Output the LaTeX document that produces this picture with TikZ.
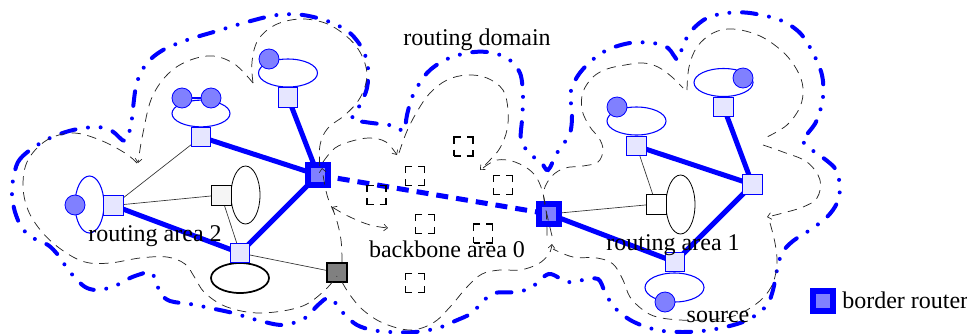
\documentclass[tikz,border=0pt]{standalone}
\usepackage{fontspec}
\setmainfont{Liberation Serif}
\usetikzlibrary{shapes.geometric,backgrounds,arrows.meta}
\definecolor{hostfill}{RGB}{128,128,255}
\definecolor{lav}{RGB}{230,230,255}
\begin{document}
\begin{tikzpicture}[x=0.75pt,y=-0.75pt,
  lavsq/.style={rectangle,draw=blue,fill=lav,line width=0.75pt,minimum size=14.5pt,inner sep=0pt},
  brsq/.style={rectangle,draw=blue,fill=hostfill,line width=4.5pt,minimum size=14.5pt,inner sep=0pt},
  hostc/.style={circle,draw=blue,fill=hostfill,line width=0.6pt,minimum size=15pt,inner sep=0pt},
  bell/.style={ellipse,draw=blue,line width=0.8pt,inner sep=0pt},
  kell/.style={ellipse,draw=black,line width=0.6pt,inner sep=0pt},
  wsq/.style={rectangle,draw=black,fill=white,line width=0.6pt,minimum size=15pt,inner sep=0pt},
  dsq/.style={rectangle,draw=black,line width=0.8pt,minimum size=14.25pt,inner sep=0pt,dash pattern=on 9.75pt off 4.5pt,dash phase=4.875pt},
  heavylink/.style={blue,line width=3.75pt},
  lightlink/.style={black!80,line width=0.5pt},
  areazone/.style={black!85,line width=0.55pt,dash pattern=on 7pt off 5pt},
  barbend/.style={-{Straight Barb[length=2.8pt,width=5pt,line width=0.5pt]}},
  routedomain/.style={blue,line width=3pt,line cap=round,dash pattern=on 11pt off 9.5pt on 0pt off 9.5pt on 0pt off 9.5pt},
  lbl/.style={font=\fontsize{18}{20}\selectfont,inner sep=0pt,anchor=base}]
\useasboundingbox (0,0) rectangle (967,333);

% ---------- routing domain (blue dash-dot) ----------
\draw[routedomain] plot[smooth cycle,tension=0.55] coordinates {
 (13,180) (18,162) (30,150) (50,138) (73,130) (97,127) (112,131) (125,141) (131,125)
 (133,108) (137,82) (147,63) (163,50) (187,40) (217,31) (247,22) (277,15) (303,15)
 (330,22) (350,33) (363,50) (368,68) (367,88) (360,105) (352,119) (365,122) (380,124)
 (395,126) (404,131) (407,115) (413,95) (427,73) (445,60) (467,53) (487,52) (507,58)
 (520,73) (523,97) (522,120) (521,140) (530,154) (541,162) (548,170) (557,153) (570,133)
 (572,110) (570,95) (577,77) (590,62) (607,50) (630,43) (653,43) (668,48) (678,60)
 (683,45) (692,30) (707,18) (727,13) (750,13) (780,20) (800,33) (813,53) (822,75)
 (823,97) (817,120) (808,133) (802,140) (812,150) (826,160) (836,170) (840,187)
 (837,203) (827,217) (810,230) (793,241) (782,253) (777,270) (773,290) (767,305)
 (753,317) (737,324) (710,330) (683,332) (657,330) (632,321) (614,307) (605,292)
 (598,279) (583,280) (567,282) (549,274) (532,287) (517,292) (495,293) (482,302)
 (472,313) (455,321) (438,328) (415,332) (390,332) (372,330) (357,325) (345,315)
 (330,298) (318,305) (305,318) (283,325) (257,320) (233,313) (210,308) (190,304)
 (170,301) (160,293) (156,280) (150,272) (141,274) (130,278) (117,285) (100,290)
 (87,288) (77,280) (67,268) (58,255) (48,245) (33,238) (22,228) (15,212) (12,195)};

% ---------- area 2 nodes ----------
\node[bell,minimum width=21.75pt,minimum height=42.75pt] (e2a) at (89.5,204.5) {};
\node[hostc] (h2a) at (75,205) {};
\node[lavsq] (s2a) at (113.5,205.5) {};
\node[bell,minimum width=43.5pt,minimum height=20pt] (e2b) at (201,113.5) {};
\node[hostc] (h2b) at (182,98) {};
\node[hostc] (h2c) at (211,98) {};
\node[lavsq] (s2b) at (201,137) {};
\node[bell,minimum width=44.25pt,minimum height=21pt] (e2c) at (288,73) {};
\node[hostc] (h2d) at (269,59) {};
\node[lavsq] (s2c) at (288,97.5) {};
\node[kell,minimum width=21.75pt,minimum height=43.5pt] (k2) at (245.5,195) {};
\node[wsq,fill=black!4] (w2) at (221,195) {};
\node[kell,line width=1.3pt,minimum width=43.5pt,minimum height=22.5pt] (k2b) at (240,278) {};
\node[lavsq] (s2d) at (240,253) {};
\node[rectangle,draw=black,fill=gray,line width=1.5pt,minimum size=14.5pt,inner sep=0pt] (g) at (337,272.5) {};
\node[brsq] (r1) at (318,175) {};

% ---------- backbone ----------
\node[dsq] (d1) at (463.5,146.5) {};
\node[dsq] (d2) at (415,176) {};
\node[dsq] (d3) at (376.5,195) {};
\node[dsq] (d4) at (503,185) {};
\node[dsq] (d5) at (425,224) {};
\node[dsq] (d6) at (483,233.5) {};
\node[dsq] (d7) at (415,283) {};
\node[brsq] (r2) at (549,214) {};

% ---------- area 1 nodes ----------
\node[bell,minimum width=44.25pt,minimum height=21pt] (e1a) at (636.5,121) {};
\node[hostc] (h1a) at (617,107) {};
\node[lavsq] (s1a) at (636.5,146) {};
\node[bell,minimum width=44.25pt,minimum height=21pt] (e1b) at (723.5,82.5) {};
\node[hostc] (h1b) at (743,78) {};
\node[lavsq] (s1b) at (723.5,107) {};
\node[lavsq] (s1c) at (752.5,184.5) {};
\node[kell,minimum width=21.75pt,minimum height=44.25pt] (k1) at (680.5,204.5) {};
\node[wsq] (w1) at (656,204) {};
\node[bell,minimum width=44.25pt,minimum height=21.75pt] (e1c) at (674.5,287.5) {};
\node[hostc] (h1c) at (665,302) {};
\node[lavsq] (s1d) at (675,262) {};

% ---------- legend ----------
\node[brsq] (leg) at (823,301) {};
\node[lbl,anchor=base west] (legt) at (842,308) {border router};

% ---------- connectors ----------
\begin{scope}[on background layer]
\draw[heavylink] (s2b.center) -- (r1.center);
\draw[heavylink] (s2c.center) -- (r1.center);
\draw[heavylink] (s2a.center) -- (s2d.center);
\draw[heavylink] (s2d.center) -- (r1.center);
\draw[lightlink] (s2a.center) -- (s2b.center);
\draw[lightlink] (s2a.center) -- (w2.center);
\draw[lightlink] (w2.center) -- (s2d.center);
\draw[lightlink] (s2d.center) -- (g.center);
\draw[blue,line width=3.75pt,dash pattern=on 9pt off 6pt] (r1.center) -- (r2.center);
\draw[heavylink] (s1a.center) -- (s1c.center);
\draw[heavylink] (s1b.center) -- (s1c.center);
\draw[heavylink] (s1c.center) -- (s1d.center);
\draw[heavylink] (r2.center) -- (s1d.center);
\draw[lightlink] (r2.center) -- (w1.center);
\draw[lightlink] (s1a.center) -- (w1.center);
\draw[blue,line width=0.8pt] (h2b) -- (h2c);
\end{scope}

% ---------- area borders (black dashed) ----------
\draw[areazone,barbend] plot[smooth,tension=0.6] coordinates {(253,83) (233,63) (207,56) (175,68) (153,95) (143,133) (138,163)};
\draw[areazone] plot[smooth,tension=0.6] coordinates {(253,83) (252,62) (258,40) (275,25) (300,19) (325,23) (345,35) (360,52) (367,75) (360,98) (345,115) (328,128) (320,145) (320,170)};
\draw[areazone] plot[smooth,tension=0.6] coordinates {(137,163) (125,153) (100,140) (73,133) (47,140) (28,160) (23,185) (28,210) (42,232) (62,250) (85,262) (110,263) (140,258) (167,257) (185,264) (195,278) (205,293) (227,307) (260,313) (300,307) (323,292) (337,276)};
\draw[areazone,barbend] plot[smooth,tension=0.6] coordinates {(342,262) (341,240) (336,218) (327,195) (322,168)};
\draw[areazone,barbend] plot[smooth,tension=0.6] coordinates {(323,162) (335,148) (352,141) (370,138) (386,142) (397,155)};
\draw[areazone,barbend] plot[smooth,tension=0.6] coordinates {(399,153) (407,131) (418,110) (430,93) (447,80) (467,75) (487,78) (503,90) (508,110) (507,130) (500,148) (490,160) (480,170)};
\draw[areazone] plot[smooth,tension=0.6] coordinates {(483,168) (497,160) (515,162) (532,172) (541,187) (546,210) (547,238)};
\draw[areazone,{Straight Barb[length=2.8pt,width=5pt,line width=0.5pt]}-{Straight Barb[length=2.8pt,width=5pt,line width=0.5pt]}] plot[smooth,tension=0.6] coordinates {(332,207) (350,217) (370,225) (388,228)};
\draw[areazone,barbend] plot[smooth,tension=0.6] coordinates {(342,282) (350,295) (363,310) (383,323) (410,330) (433,323) (450,307) (467,287) (482,274) (500,270) (520,270) (538,264) (549,254) (552,244)};
\draw[areazone] plot[smooth,tension=0.6] coordinates {(552,236) (545,205) (544,190) (552,176) (565,168) (583,166) (598,162) (603,150) (599,138) (590,127) (582,110) (583,92) (593,77) (607,69) (625,65) (643,63) (658,67) (672,77) (683,88)};
\draw[areazone] plot[smooth,tension=0.6] coordinates {(687,90) (689,67) (697,47) (713,33) (733,29) (760,36) (783,52) (797,70) (803,88) (800,107) (787,125) (767,137)};
\draw[areazone,barbend] plot[smooth,tension=0.6] coordinates {(763,145) (783,152) (807,162) (820,180) (817,198) (803,207) (783,213) (767,217)};
\draw[areazone] plot[smooth,tension=0.6] coordinates {(770,223) (775,243) (777,263) (773,283) (763,298) (747,310) (730,317) (705,320) (680,320) (657,317) (643,310) (630,297) (623,280) (613,264) (597,258) (573,257) (553,249)};

% ---------- labels ----------
\node[lbl] (t2) at (155,241) {routing area 2};
\node[lbl] (t0) at (447,257) {backbone area 0};
\node[lbl] (td) at (477,45) {routing domain};
\node[lbl] (t1) at (673,250) {routing area 1};
\node[lbl] (ts) at (718,322) {source};
\end{tikzpicture}
\end{document}
